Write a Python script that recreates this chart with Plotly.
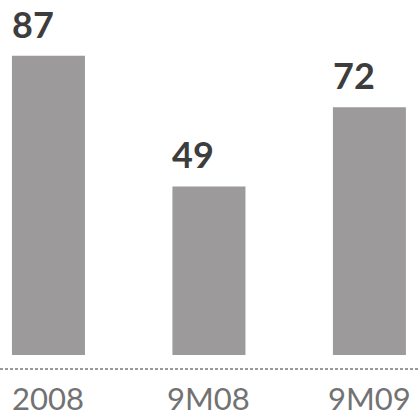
import plotly.graph_objects as go

# Chart data
categories = ["2008", "9M08", "9M09"]
values = [87, 49, 72]

BAR_COLOR = "#9c9a9b"
VALUE_COLOR = "#3d3d3d"
LABEL_COLOR = "#727272"
BAR_WIDTH = 0.455

x_pos = list(range(len(categories)))

fig = go.Figure(
    go.Bar(
        x=x_pos,
        y=values,
        width=BAR_WIDTH,
        marker=dict(color=BAR_COLOR, line=dict(width=0)),
        hoverinfo="skip",
    )
)

# Value labels, left-aligned with each bar
for x, v in zip(x_pos, values):
    fig.add_annotation(
        x=x - BAR_WIDTH / 2,
        y=v,
        text=f"<b>{v}</b>",
        showarrow=False,
        xanchor="left",
        yanchor="bottom",
        xshift=-2,
        yshift=8,
        font=dict(family="Lato", size=36, color=VALUE_COLOR),
    )

# Category labels under the baseline
for x, c in zip(x_pos, categories):
    fig.add_annotation(
        x=x,
        y=0.043,
        yref="paper",
        text=c,
        showarrow=False,
        xanchor="center",
        yanchor="middle",
        font=dict(family="Lato", size=31, color=LABEL_COLOR),
    )

# Dotted baseline across the full width
fig.add_shape(
    type="line",
    xref="paper",
    yref="paper",
    x0=0,
    x1=1,
    y0=0.113,
    y1=0.113,
    line=dict(color="#9a9a9a", width=2, dash="3px,2px"),
)

fig.update_layout(
    width=419,
    height=416,
    margin=dict(l=0, r=0, t=0, b=0),
    paper_bgcolor="white",
    plot_bgcolor="white",
    showlegend=False,
    xaxis=dict(range=[-0.302, 2.309], visible=False, fixedrange=True),
    yaxis=dict(range=[-17.7, 103.2], visible=False, fixedrange=True),
)

fig.write_html("out.html", config={"displayModeBar": False})
